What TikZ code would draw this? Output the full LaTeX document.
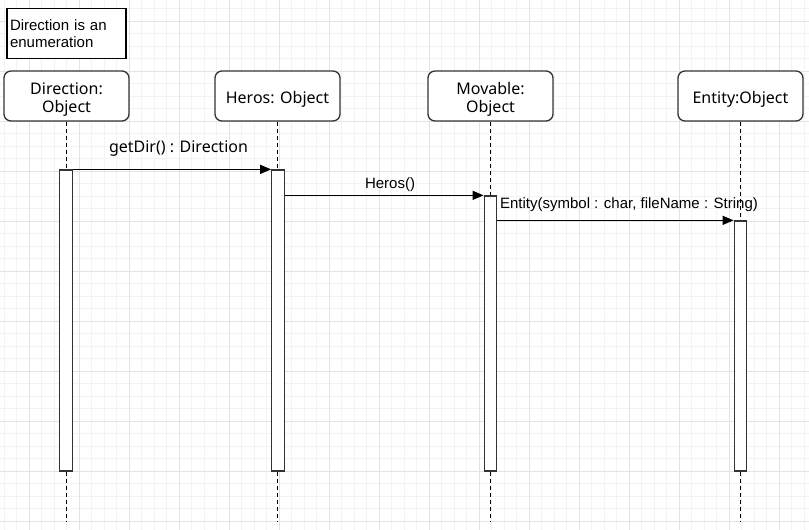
\documentclass[tikz,border=0pt]{standalone}
\usepackage{fontspec}
\setmainfont{Liberation Sans}
\newfontfamily\noto{Noto Sans}
\usetikzlibrary{arrows.meta}
\definecolor{gridminor}{HTML}{F3F3F3}
\definecolor{gridmajor}{HTML}{E3E3E3}
\definecolor{edge}{HTML}{333333}
\tikzset{
  objbox/.style={draw=edge, line width=1.3pt, rounded corners=7pt, fill=white,
    minimum width=125pt, minimum height=50pt, inner sep=0pt},
  objtext/.style={inner sep=0pt, align=center, font=\noto\fontsize{16}{17.5}\selectfont},
  actbar/.style={draw=edge, line width=1.3pt, fill=white, minimum width=12.5pt, inner sep=0pt},
  lifeline/.style={draw=black, line width=1pt, dash pattern=on 4pt off 3pt},
  msg/.style={draw=black, line width=1.3pt, -{Triangle[length=11pt,width=9pt]}},
  msglabel/.style={inner sep=0pt, font=\fontsize{15}{17}\selectfont},
  notebox/.style={draw=black, line width=1.3pt, fill=white, minimum width=119pt, minimum height=50pt,
    inner sep=3pt, text width=113pt, align=left, font=\fontsize{15}{17.4}\selectfont}
}
\begin{document}
\begin{tikzpicture}[x=1pt,y=-1pt]
\useasboundingbox (0,0) rectangle (809,530);
\fill[white] (0,0) rectangle (809,530);
% grid
\foreach \i in {0,...,64} \draw[gridminor, line width=0.8pt] ({4+12.5*\i},0) -- ({4+12.5*\i},530);
\foreach \j in {0,...,41} \draw[gridminor, line width=0.8pt] (0,{8.5+12.5*\j}) -- (809,{8.5+12.5*\j});
\foreach \i in {0,...,15} \draw[gridmajor, line width=1pt] ({29+50*\i},0) -- ({29+50*\i},530);
\foreach \j in {0,...,10} \draw[gridmajor, line width=1pt] (0,{21+50*\j}) -- (809,{21+50*\j});

% note
\node[notebox] (note) at (66.5,33.5) {Direction is an\\enumeration};

% objects
\node[objbox] (dir) at (66.5,96) {};
\node[objbox] (her) at (277.5,96) {};
\node[objbox] (mov) at (490.5,96) {};
\node[objbox] (ent) at (740.5,96) {};
\node[objtext] (dirt) at ([yshift=-3.5pt]dir.center) {Direction:\\Object};
\node[objtext] (hert) at ([yshift=-3.5pt]her.center) {Heros: Object};
\node[objtext] (movt) at ([yshift=-3.5pt]mov.center) {Movable:\\Object};
\node[objtext] (entt) at ([yshift=-3.5pt]ent.center) {Entity:Object};

% lifeline ends
\coordinate (dirend) at (66.5,521);
\coordinate (herend) at (277.5,521);
\coordinate (movend) at (490.5,521);
\coordinate (entend) at (740.5,521);
\draw[lifeline] (dir.south) -- (dirend);
\draw[lifeline] (her.south) -- (herend);
\draw[lifeline] (mov.south) -- (movend);
\draw[lifeline] (ent.south) -- (entend);

% activation bars
\node[actbar, minimum height=301pt] (bdir) at (66,320.5) {};
\node[actbar, minimum height=301pt] (bher) at (278,320.5) {};
\node[actbar, minimum height=275pt] (bmov) at (490.5,333.5) {};
\node[actbar, minimum height=250pt] (bent) at (740.5,346) {};

% messages
\draw[msg] (bdir.north east) -- (bher.north west);
\draw[msg] (bher.east |- bmov.north) -- (bmov.north west);
\draw[msg] (bmov.east |- bent.north) -- (bent.north west);

\node[msglabel, font=\noto\fontsize{16}{18}\selectfont] (l1) at (178.5,149) {getDir() : Direction};
\node[msglabel] (l2) at (390,184.5) {Heros()};
\node[msglabel] (l3) at (629,205) {Entity(symbol : char, fileName : String)};
\end{tikzpicture}
\end{document}
